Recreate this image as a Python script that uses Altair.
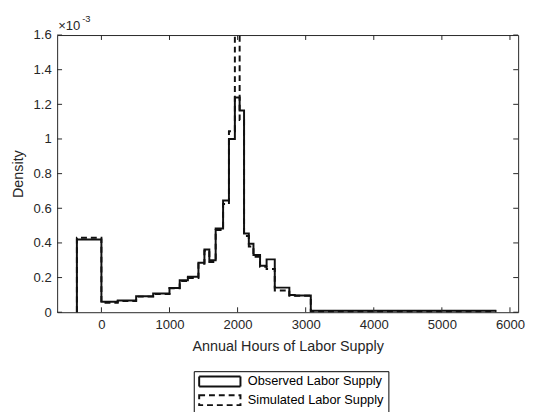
import altair as alt
import pandas as pd

# Bin edges (annual hours) and densities (x 1e-3)
edges = [-360, 0, 240, 510, 760, 1000, 1150, 1270, 1425, 1513, 1585, 1678, 1787,
         1873, 1960, 2030, 2095, 2165, 2233, 2330, 2426, 2546, 2760, 2840, 3075, 5800]
observed = [0.42, 0.060, 0.068, 0.092, 0.108, 0.140, 0.185, 0.205, 0.285, 0.362,
            0.300, 0.483, 0.645, 1.00, 1.24, 1.165, 0.455, 0.395, 0.330, 0.268,
            0.305, 0.142, 0.100, 0.097, 0.008]
simulated = [0.43, 0.055, 0.065, 0.090, 0.105, 0.138, 0.180, 0.198, 0.280, 0.355,
             0.290, 0.475, 0.625, 1.045, 1.59, 1.11, 0.440, 0.380, 0.320, 0.262,
             0.250, 0.125, 0.095, 0.095, 0.006]
series_names = ["Observed Labor Supply", "Simulated Labor Supply"]
x_ticks = [0, 1000, 2000, 3000, 4000, 5000, 6000]
y_ticks = [0, 0.2, 0.4, 0.6, 0.8, 1.0, 1.2, 1.4, 1.6]

W, H = 469, 282
XDOM = [-650, 6120]
YDOM = [0, 1.6]

rows = []
for name, vals in zip(series_names, [observed, simulated]):
    idx = 0
    rows.append({"hours": edges[0], "density": 0.0, "series": name, "idx": idx})
    for i, v in enumerate(vals):
        idx += 1
        rows.append({"hours": edges[i], "density": v, "series": name, "idx": idx})
    idx += 1
    rows.append({"hours": edges[-1], "density": vals[-1], "series": name, "idx": idx})
df = pd.DataFrame(rows)

xscale = alt.Scale(domain=XDOM, nice=False, zero=False)
yscale = alt.Scale(domain=YDOM, nice=False)

font = "Liberation Sans"
axis_color = "#262626"

common = dict(grid=False, domain=False, ticks=False, labelFont=font, titleFont=font,
              labelFontSize=13.3, titleFontSize=14.6, labelColor=axis_color,
              titleColor=axis_color, titleFontWeight="normal")
xaxis = alt.Axis(values=x_ticks, format="d", title="Annual Hours of Labor Supply",
                 labelPadding=6, titlePadding=8, **common)
yaxis = alt.Axis(values=y_ticks, format="~g", title="Density",
                 labelPadding=6, titlePadding=8, **common)

lines = alt.Chart(df).mark_line(interpolate="step-after", strokeWidth=2, color="#111111").encode(
    x=alt.X("hours:Q", scale=xscale, axis=xaxis, title="Annual Hours of Labor Supply"),
    y=alt.Y("density:Q", scale=yscale, axis=yaxis, title="Density"),
    strokeDash=alt.StrokeDash(
        "series:N",
        scale=alt.Scale(domain=series_names, range=[[1, 0], [6, 4]]),
        legend=alt.Legend(title=None, orient="none", legendX=139, legendY=342,
                          direction="vertical", strokeColor="#000000", fillColor="white",
                          padding=4, rowPadding=0, symbolType="M-1.25,-1.25H9.25V1.25H-1.25Z",
                          symbolSize=64, symbolStrokeWidth=2, symbolStrokeColor="#111111",
                          symbolFillColor="transparent", labelFont=font, labelFontSize=13,
                          labelColor="#000000", labelOffset=38, cornerRadius=0),
    ),
    order=alt.Order("idx:Q"),
)

xt = pd.DataFrame({"t": x_ticks})
yt = pd.DataFrame({"t": y_ticks})
tick_len = 5
xb = alt.Chart(xt).mark_rule(color=axis_color, strokeWidth=1).encode(
    x=alt.X("t:Q", scale=xscale, axis=xaxis, title="Annual Hours of Labor Supply"),
    y=alt.value(H), y2=alt.value(H - tick_len))
xtop = alt.Chart(xt).mark_rule(color=axis_color, strokeWidth=1).encode(
    x=alt.X("t:Q", scale=xscale, axis=xaxis, title="Annual Hours of Labor Supply"),
    y=alt.value(0), y2=alt.value(tick_len))
yl = alt.Chart(yt).mark_rule(color=axis_color, strokeWidth=1).encode(
    y=alt.Y("t:Q", scale=yscale, axis=yaxis, title="Density"),
    x=alt.value(0), x2=alt.value(tick_len))
yr = alt.Chart(yt).mark_rule(color=axis_color, strokeWidth=1).encode(
    y=alt.Y("t:Q", scale=yscale, axis=yaxis, title="Density"),
    x=alt.value(W), x2=alt.value(W - tick_len))

mult = alt.Chart(pd.DataFrame({"s": ["×10"]})).mark_text(
    align="left", baseline="alphabetic", font=font, fontSize=13.3, color=axis_color
).encode(text="s:N", x=alt.value(1), y=alt.value(-5))
expo = alt.Chart(pd.DataFrame({"s": ["-3"]})).mark_text(
    align="left", baseline="alphabetic", font=font, fontSize=9.5, color=axis_color
).encode(text="s:N", x=alt.value(25.5), y=alt.value(-13))

chart = alt.layer(lines, xb, xtop, yl, yr, mult, expo).properties(
    width=W, height=H,
    background="white",
    autosize=alt.AutoSizeParams(type="none"),
    padding={"left": 50, "top": 24, "right": 8, "bottom": 98},
).configure_view(stroke=axis_color, strokeWidth=1)

chart.save("out.html", embed_options={"renderer": "svg", "actions": False})
